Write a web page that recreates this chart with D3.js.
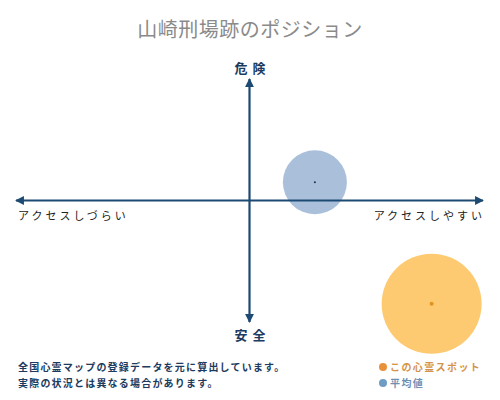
<!DOCTYPE html>
<html>
<head>
<meta charset="utf-8">
<script src="https://cdn.jsdelivr.net/npm/d3@7"></script>
<style>
  body { margin: 0; background: #fff; }
  svg { display: block; font-family: "Noto Sans CJK JP", "Noto Sans", sans-serif; }
</style>
</head>
<body>
<div id="chart-area"></div>
<script>
var title = "山崎刑場跡のポジション";
var axisLabels = ["危険", "安全", "アクセスしづらい", "アクセスしやすい"];
var names = ["平均値", "この心霊スポット"];
var accessValues = [0.28, 0.78];
var dangerValues = [0.15, -0.85];
var sizeValues = [41, 100];
var notes = ["全国心霊マップの登録データを元に算出しています。", "実際の状況とは異なる場合があります。"];
var legendNames = ["この心霊スポット", "平均値"];

var width = 500, height = 400;
var axisColor = "#1d4a72";

var svg = d3.select("#chart-area")
    .append("svg")
        .attr("width", width)
        .attr("height", height);

// scales
var x = d3.scaleLinear().domain([-1, 1]).range([16, 483]);
var y = d3.scaleLinear().domain([-1, 1]).range([322, 79]);
var r = d3.scaleSqrt().domain([0, 100]).range([0, 50]);

var fills = ["#aac0da", "#fdca72"];
var dots = ["#1d3550", "#e3921f"];

// title
svg.append("text")
    .attr("x", 250)
    .attr("y", 37)
    .attr("text-anchor", "middle")
    .attr("font-size", "20px")
    .attr("fill", "#8a8a8a")
    .attr("letter-spacing", "0.5px")
    .text(title);

// arrow marker
svg.append("defs").append("marker")
    .attr("id", "arrow")
    .attr("viewBox", "0 0 10 10")
    .attr("refX", 9)
    .attr("refY", 5)
    .attr("markerWidth", 4)
    .attr("markerHeight", 4)
    .attr("orient", "auto-start-reverse")
    .append("path")
        .attr("d", "M0,0 L10,5 L0,10 z")
        .attr("fill", axisColor);

// circles
var marks = svg.selectAll("g.mark")
    .data(names.map(function(n, i) {
        return { name: n, ax: accessValues[i], dg: dangerValues[i], size: sizeValues[i], i: i };
    }))
    .enter().append("g")
        .attr("class", "mark");

marks.append("circle")
    .attr("cx", function(d) { return x(d.ax); })
    .attr("cy", function(d) { return y(d.dg); })
    .attr("r", function(d) { return r(d.size); })
    .attr("fill", function(d) { return fills[d.i]; });

marks.append("circle")
    .attr("cx", function(d) { return x(d.ax); })
    .attr("cy", function(d) { return y(d.dg); })
    .attr("r", function(d) { return d.i == 0 ? 1 : 2; })
    .attr("fill", function(d) { return dots[d.i]; });

// axes
svg.append("line")
    .attr("x1", x(-1)).attr("x2", x(1))
    .attr("y1", y(0)).attr("y2", y(0))
    .attr("stroke", axisColor)
    .attr("stroke-width", 2.2)
    .attr("marker-start", "url(#arrow)")
    .attr("marker-end", "url(#arrow)");

svg.append("line")
    .attr("x1", x(0)).attr("x2", x(0))
    .attr("y1", y(-1)).attr("y2", y(1))
    .attr("stroke", axisColor)
    .attr("stroke-width", 2.2)
    .attr("marker-start", "url(#arrow)")
    .attr("marker-end", "url(#arrow)");

// axis labels
svg.append("text")
    .attr("x", x(0) + 3)
    .attr("y", 73)
    .attr("text-anchor", "middle")
    .attr("font-size", "13px")
    .attr("font-weight", "bold")
    .attr("letter-spacing", "5px")
    .attr("fill", "#1c3b5e")
    .text(axisLabels[0]);

svg.append("text")
    .attr("x", x(0) + 3)
    .attr("y", 340)
    .attr("text-anchor", "middle")
    .attr("font-size", "13px")
    .attr("font-weight", "bold")
    .attr("letter-spacing", "5px")
    .attr("fill", "#1c3b5e")
    .text(axisLabels[1]);

svg.append("text")
    .attr("x", 18)
    .attr("y", 220)
    .attr("font-size", "11px")
    .attr("letter-spacing", "3px")
    .attr("fill", "#222")
    .text(axisLabels[2]);

svg.append("text")
    .attr("x", 485)
    .attr("y", 220)
    .attr("text-anchor", "end")
    .attr("font-size", "11px")
    .attr("letter-spacing", "3px")
    .attr("fill", "#222")
    .text(axisLabels[3]);

// notes
svg.selectAll("text.note")
    .data(notes)
    .enter().append("text")
        .attr("class", "note")
        .attr("x", 18)
        .attr("y", function(d, i) { return 371 + i * 16; })
        .attr("font-size", "10px")
        .attr("font-weight", "bold")
        .attr("letter-spacing", "1.2px")
        .attr("fill", "#1c3b5e")
        .text(function(d) { return d; });

// legend
var legendColors = ["#e8913a", "#6f9cc3"];
var legendText = ["#d49448", "#6f8fb3"];
var legend = svg.selectAll("g.legend")
    .data(legendNames)
    .enter().append("g")
        .attr("class", "legend")
        .attr("transform", function(d, i) { return "translate(383," + (367 + i * 16) + ")"; });

legend.append("circle")
    .attr("r", 4)
    .attr("fill", function(d, i) { return legendColors[i]; });

legend.append("text")
    .attr("x", 7)
    .attr("y", 4)
    .attr("font-size", "10px")
    .attr("font-weight", "bold")
    .attr("letter-spacing", "1.4px")
    .attr("fill", function(d, i) { return legendText[i]; })
    .text(function(d) { return d; });
</script>
</body>
</html>
